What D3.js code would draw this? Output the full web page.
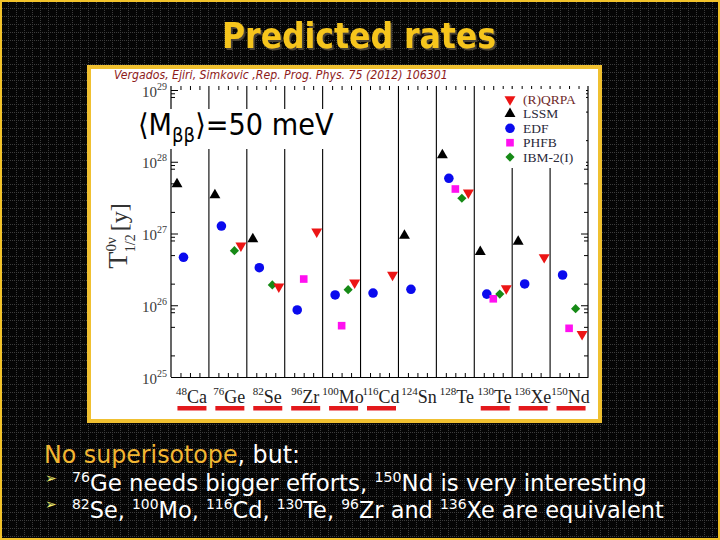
<!DOCTYPE html>
<html>
<head>
<meta charset="utf-8">
<script src="https://cdn.jsdelivr.net/npm/d3@7"></script>
<style>
  body { margin: 0; background: #000; }
</style>
</head>
<body>
<div id="slide"></div>
<script>
// isotopes on the x axis
var massNumbers = ["48", "76", "82", "96", "100", "116", "124", "128", "130", "136", "150"];
var elements = ["Ca", "Ge", "Se", "Zr", "Mo", "Cd", "Sn", "Te", "Te", "Xe", "Nd"];
var underlined = [true, true, true, true, true, true, false, false, true, true, true];

// models, in the order they sit inside each isotope column
var models = ["LSSM", "EDF", "PHFB", "IBM-2(I)", "(R)QRPA"];
var legendOrder = ["(R)QRPA", "LSSM", "EDF", "PHFB", "IBM-2(I)"];

// predicted half-lives T1/2 [y] for <m_bb> = 50 meV (null = no prediction)
var lssm = [4.9e27, 3.44e27, 8.38e26, null, null, null, 9.32e26, 1.24e28, 5.57e26, 7.69e26, null];
var edf = [4.66e26, 1.27e27, 3.34e26, 8.59e25, 1.39e26, 1.48e26, 1.67e26, 5.88e27, 1.43e26, 1.98e26, 2.64e26];
var phfb = [null, null, null, 2.32e26, 5.19e25, null, null, 4.17e27, 1.23e26, null, 4.77e25];
var ibm = [null, 5.76e26, 1.92e26, null, 1.65e26, null, null, 3.10e27, 1.43e26, null, 8.95e25];
var qrpa = [null, 6.76e26, 1.81e26, 1.06e27, 2.06e26, 2.64e26, null, 3.71e27, 1.72e26, 4.66e26, 3.94e25];

var yTicks = [1e25, 1e26, 1e27, 1e28, 1e29];

var seriesValues = {"LSSM": lssm, "EDF": edf, "PHFB": phfb, "IBM-2(I)": ibm, "(R)QRPA": qrpa};
var color = {"LSSM": "#000000", "EDF": "#0a0aee", "PHFB": "#ff10f0", "IBM-2(I)": "#168a16", "(R)QRPA": "#ec1515"};

var W = 720, H = 540;
var svg = d3.select("#slide").append("svg")
    .attr("width", W)
    .attr("height", H)
    .style("display", "block");

// dotted grid background
var defs = svg.append("defs");
var pat = defs.append("pattern")
    .attr("id", "grid")
    .attr("width", 8).attr("height", 8)
    .attr("patternUnits", "userSpaceOnUse");
pat.append("rect").attr("width", 8).attr("height", 8).attr("fill", "#050505");
[0, 2, 4, 6].forEach(function(k) {
    pat.append("rect").attr("x", k).attr("y", 0).attr("width", 1).attr("height", 1).attr("fill", "#3c3c3c");
    if (k > 0) pat.append("rect").attr("x", 0).attr("y", k).attr("width", 1).attr("height", 1).attr("fill", "#3c3c3c");
});
var shadow = defs.append("filter").attr("id", "shadow")
    .attr("x", "-10%").attr("y", "-20%").attr("width", "120%").attr("height", "150%");
shadow.append("feDropShadow")
    .attr("dx", 2).attr("dy", 2).attr("stdDeviation", 0.4)
    .attr("flood-color", "#4a4236").attr("flood-opacity", 1);

svg.append("rect").attr("width", W).attr("height", H).attr("fill", "url(#grid)");
svg.append("rect")
    .attr("x", 1).attr("y", 1).attr("width", W - 2).attr("height", H - 2)
    .attr("fill", "none").attr("stroke", "#f2c22a").attr("stroke-width", 2);

// scale a text element horizontally so that it spans a given width
function fitText(sel, x0, y0, w) {
    var bw = sel.node().getBBox().width;
    sel.attr("transform", "translate(" + x0 + "," + y0 + ") scale(" + (w / bw) + ",1)");
}

// title
var title = svg.append("text")
    .attr("font-family", "DejaVu Sans")
    .attr("font-weight", "bold")
    .attr("font-size", 36)
    .attr("fill", "#f6c51c")
    .attr("filter", "url(#shadow)")
    .text("Predicted rates");
fitText(title, 222, 48, 274);

// chart frame
svg.append("rect")
    .attr("x", 89).attr("y", 67).attr("width", 511).attr("height", 354)
    .attr("fill", "#fff").attr("stroke", "#f0c030").attr("stroke-width", 4);

// plot area
var plot = {left: 171, right: 588, bottom: 377};
var y = d3.scaleLog().domain([1e25, 1e29]).range([377, 90]);
plot.top = y(1e29) - 4;

var x = d3.scaleBand().domain(d3.range(massNumbers.length)).range([plot.left, plot.right]).padding(0);
var xi = d3.scalePoint().domain(models).range([6, 32]);
var xu = d3.scaleLinear().domain([0, massNumbers.length]).range([plot.left, plot.right]);

var g = svg.append("g");

// column separators
g.selectAll(".sep")
    .data(d3.range(1, massNumbers.length))
    .enter().append("line")
    .attr("class", "sep")
    .attr("x1", function(d) { return xu(d); })
    .attr("x2", function(d) { return xu(d); })
    .attr("y1", plot.top)
    .attr("y2", plot.bottom)
    .attr("stroke", "#000").attr("stroke-width", 1.1);

// minor x ticks (top and bottom, inward)
var xMinor = d3.range(0, massNumbers.length * 4).filter(function(d) { return d % 4 !== 0; }).map(function(d) { return d / 4; });
g.append("g")
    .attr("transform", "translate(0," + plot.bottom + ")")
    .call(d3.axisBottom(xu).tickValues(xMinor).tickSize(-4).tickSizeOuter(0).tickFormat(""))
    .call(function(s) { s.select(".domain").attr("stroke-width", 1.2); });
g.append("g")
    .attr("transform", "translate(0," + plot.top + ")")
    .call(d3.axisTop(xu).tickValues(xMinor).tickSize(-4).tickFormat(""))
    .call(function(s) { s.select(".domain").remove(); });

// y minor ticks
var yMinor = [];
[1e25, 1e26, 1e27, 1e28].forEach(function(dec) {
    [2, 5, 8, 9].forEach(function(m) { yMinor.push(dec * m); });
});

function yAxisSide(axisFn, xPos, labels) {
    var ax = g.append("g").attr("transform", "translate(" + xPos + ",0)");
    ax.call(axisFn(y).tickValues(yTicks).tickSize(-7).tickSizeOuter(0).tickPadding(4).tickFormat(""));
    ax.select(".domain").remove();
    ax.append("line")
        .attr("y1", plot.top).attr("y2", plot.bottom)
        .attr("stroke", "#000").attr("stroke-width", 1.2);
    var mn = g.append("g").attr("transform", "translate(" + xPos + ",0)");
    mn.call(axisFn(y).tickValues(yMinor).tickSize(-4).tickFormat(""));
    mn.select(".domain").remove();
    if (labels) {
        ax.selectAll(".tick text").each(function(d) {
            var t = d3.select(this)
                .attr("font-family", "Liberation Serif")
                .attr("font-size", 15)
                .attr("fill", "#3a3a3a")
                .attr("dy", "0.4em")
                .attr("text-anchor", "end");
            t.append("tspan").text("10");
            t.append("tspan").attr("font-size", 10).attr("dy", -7).text(Math.round(Math.log10(d)));
        });
    }
}
yAxisSide(d3.axisLeft, plot.left, true);
yAxisSide(d3.axisRight, plot.right, false);

// y axis title
var yt = svg.append("text")
    .attr("transform", "translate(127,236) rotate(-90)")
    .attr("text-anchor", "middle")
    .attr("font-family", "Liberation Serif")
    .attr("fill", "#333");
yt.append("tspan").attr("font-size", 28).text("T");
yt.append("tspan").attr("font-size", 15).attr("dy", -11).text("0ν");
yt.append("tspan").attr("font-size", 14).attr("dx", -15).attr("dy", 19).text("1/2");
yt.append("tspan").attr("font-size", 24).attr("dx", 3).attr("dy", -8).text("[y]");

// annotation <m_bb> = 50 meV with white background
svg.append("rect").attr("x", 137).attr("y", 109).attr("width", 205).attr("height", 40).attr("fill", "#fff");
var ann = svg.append("text")
    .attr("font-family", "DejaVu Sans")
    .attr("font-size", 30)
    .attr("fill", "#000");
ann.append("tspan").text("⟨M");
ann.append("tspan").attr("font-size", 20).attr("dy", 7).text("ββ");
ann.append("tspan").attr("dy", -7).text("⟩=50 meV");
fitText(ann, 138, 135, 196);

// markers
var shapes = {
    "LSSM": {type: d3.symbolTriangle, size: 52, rot: 0},
    "EDF": {type: d3.symbolCircle, size: 72, rot: 0},
    "PHFB": {type: d3.symbolSquare, size: 58, rot: 0},
    "IBM-2(I)": {type: d3.symbolSquare, size: 42, rot: 45},
    "(R)QRPA": {type: d3.symbolTriangle, size: 52, rot: 180}
};

var points = [];
models.forEach(function(m) {
    seriesValues[m].forEach(function(v, i) {
        if (v !== null) points.push({model: m, idx: i, value: v});
    });
});

g.selectAll(".pt")
    .data(points)
    .enter().append("path")
    .attr("class", "pt")
    .attr("d", function(d) { return d3.symbol().type(shapes[d.model].type).size(shapes[d.model].size)(); })
    .attr("transform", function(d) {
        return "translate(" + (x(d.idx) + xi(d.model)) + "," + y(d.value) + ") rotate(" + shapes[d.model].rot + ")";
    })
    .attr("fill", function(d) { return color[d.model]; });

// legend
svg.append("rect").attr("x", 498).attr("y", 89).attr("width", 88).attr("height", 79).attr("fill", "#fff");
var leg = svg.selectAll(".leg")
    .data(legendOrder)
    .enter().append("g")
    .attr("class", "leg")
    .attr("transform", function(d, i) { return "translate(510," + (99.5 + i * 14.4) + ")"; });
leg.append("path")
    .attr("d", function(d) { return d3.symbol().type(shapes[d].type).size(shapes[d].size)(); })
    .attr("transform", function(d) { return "rotate(" + shapes[d].rot + ")"; })
    .attr("fill", function(d) { return color[d]; });
leg.append("text")
    .attr("x", 13)
    .attr("y", 4.5)
    .attr("font-family", "Liberation Serif")
    .attr("font-size", 13.5)
    .attr("fill", function(d) { return d === "(R)QRPA" ? "#6e2a2a" : "#2a2a3a"; })
    .text(function(d) { return d; });

// citation
var cit = svg.append("text")
    .attr("font-family", "DejaVu Sans")
    .attr("font-style", "italic")
    .attr("font-size", 12)
    .attr("fill", "#8e1a1a")
    .text("Vergados, Ejiri, Simkovic ,Rep. Prog. Phys. 75 (2012) 106301");
fitText(cit, 114, 79, 334);

// isotope labels
var lab = svg.selectAll(".iso")
    .data(massNumbers)
    .enter().append("text")
    .attr("class", "iso")
    .attr("x", function(d, i) { return x(i) + x.bandwidth() / 2 + 1.5; })
    .attr("y", 403)
    .attr("text-anchor", "middle")
    .attr("font-family", "Liberation Serif")
    .attr("font-size", 18)
    .attr("fill", "#222");
lab.append("tspan").attr("font-size", 11).attr("dy", -8).text(function(d) { return d; });
lab.append("tspan").attr("dy", 8).text(function(d, i) { return elements[i]; });

svg.selectAll(".bar")
    .data(massNumbers.map(function(d, i) { return i; }).filter(function(i) { return underlined[i]; }))
    .enter().append("rect")
    .attr("class", "bar")
    .attr("x", function(i) { return x(i) + x.bandwidth() / 2 + 2 - 14.5; })
    .attr("y", 406)
    .attr("width", 29)
    .attr("height", 4.5)
    .attr("fill", "#e3191c");

// conclusions below the chart
function richText(parts, size) {
    var t = svg.append("text")
        .attr("font-family", "DejaVu Sans")
        .attr("font-size", size);
    parts.forEach(function(p) {
        var ts = t.append("tspan").text(p.t).attr("fill", p.c || "#fff");
        if (p.sup) ts.attr("font-size", size * 0.62).attr("dy", -size * 0.38);
        if (p.after) ts.attr("dy", size * 0.38);
    });
    return t;
}

var line1 = richText([{t: "No superisotope", c: "#f2b632"}, {t: ", but:"}], 24);
fitText(line1, 44, 463, 256);

var line2 = richText([
    {t: "76", sup: true}, {t: "Ge needs bigger efforts, ", after: true},
    {t: "150", sup: true}, {t: "Nd is very interesting", after: true}
], 23);
fitText(line2, 72, 491, 575);

var line3 = richText([
    {t: "82", sup: true}, {t: "Se, ", after: true},
    {t: "100", sup: true}, {t: "Mo, ", after: true},
    {t: "116", sup: true}, {t: "Cd, ", after: true},
    {t: "130", sup: true}, {t: "Te, ", after: true},
    {t: "96", sup: true}, {t: "Zr and ", after: true},
    {t: "136", sup: true}, {t: "Xe are equivalent", after: true}
], 23);
fitText(line3, 72, 518, 592);

[483, 509].forEach(function(yy) {
    svg.append("text")
        .attr("x", 45).attr("y", yy)
        .attr("font-family", "DejaVu Sans")
        .attr("font-size", 14)
        .attr("fill", "#f0f070")
        .text("➢");
});
</script>
</body>
</html>
